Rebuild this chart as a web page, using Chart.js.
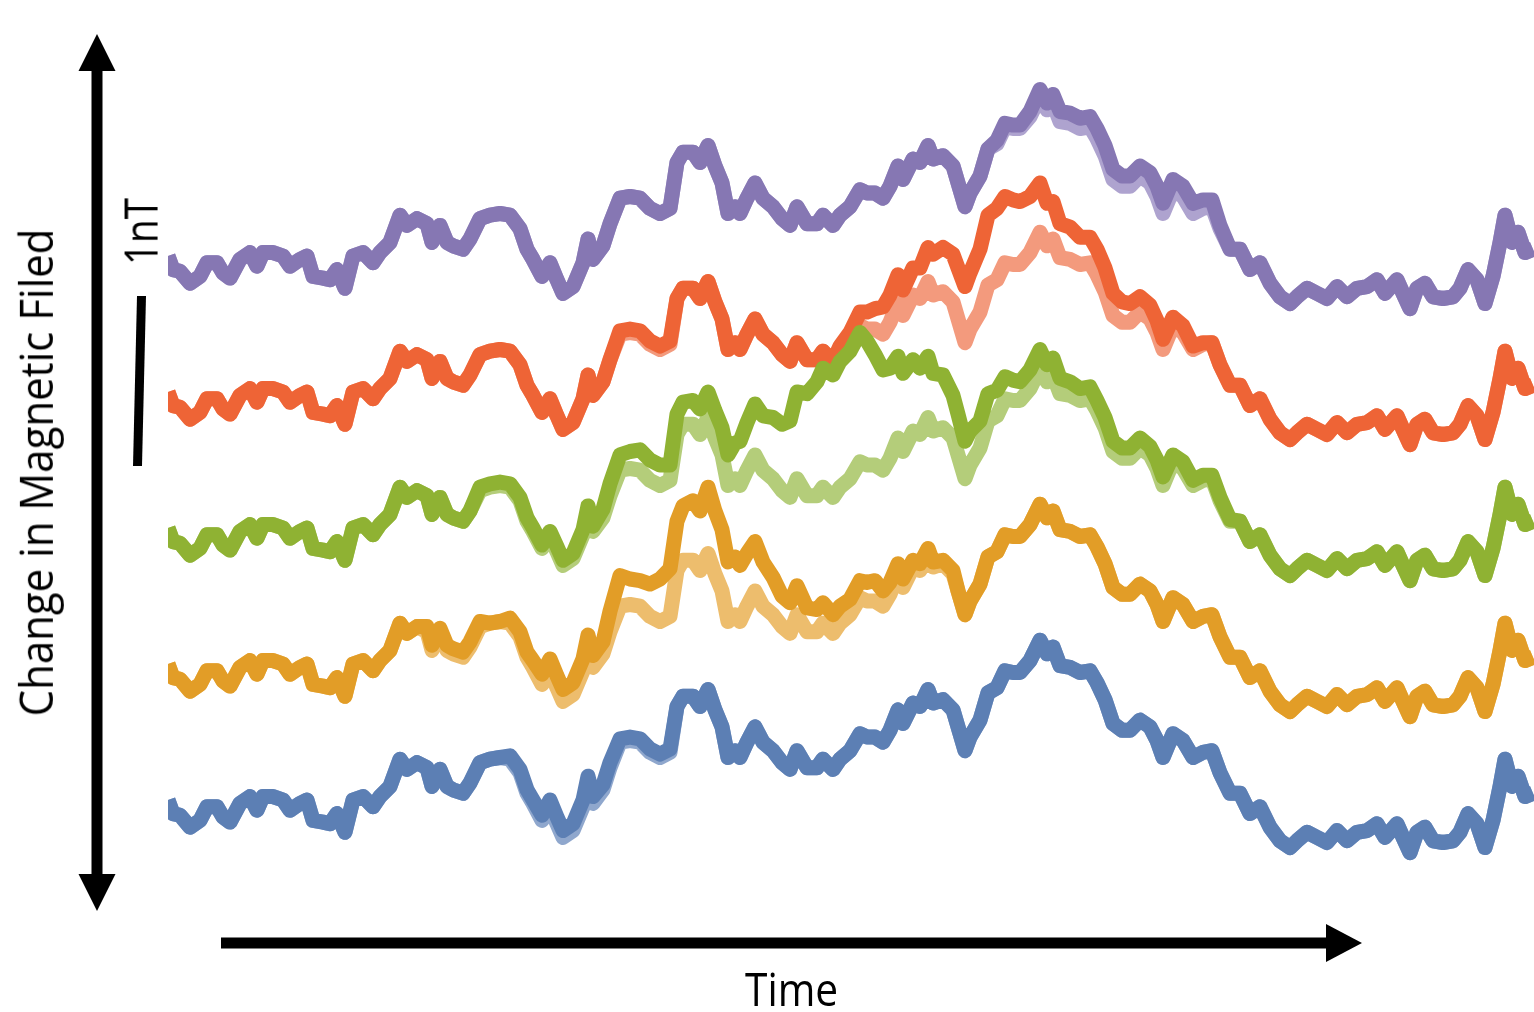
<!DOCTYPE html>
<html>
<head>
<meta charset="utf-8">
<script src="https://cdn.jsdelivr.net/npm/chart.js@4.4.1/dist/chart.umd.min.js"></script>
<style>
  html, body { margin: 0; padding: 0; background: #fff; width: 1534px; height: 1012px; overflow: hidden; }
  #wrap { position: relative; width: 1534px; height: 1012px; }
  canvas { position: absolute; left: 0; top: 0; }
  .lbl { position: absolute; font-family: "Open Sans", "DejaVu Sans", sans-serif; font-size: 45px;
         line-height: 1; color: #000; white-space: nowrap; transform-origin: 50% 50%; }
</style>
</head>
<body>
<div id="wrap">
  <canvas id="chart" width="1534" height="1012"></canvas>
  <div class="lbl" id="ylab">Change in Magnetic Filed</div>
  <div class="lbl" id="unit">1nT</div>
  <div class="lbl" id="xlab">Time</div>
</div>
<script>
// Sample times (arbitrary units) of the recorded field
const times = [0,5,12,22,32,39,49,55,62,72,82,89,95,105,115,122,132,139,145,155,162,169,177,185,195,205,212,222,232,239,249,259,264,272,279,285,295,302,312,322,332,342,352,359,365,374,382,389,395,405,415,420,425,435,442,452,462,472,482,492,502,509,515,525,532,540,547,554,560,567,572,579,587,595,605,614,622,629,639,649,655,665,672,682,692,699,707,715,722,730,735,745,752,760,765,775,785,790,797,802,812,820,829,837,845,852,862,872,879,885,892,902,912,922,929,937,945,954,962,972,982,989,995,1005,1015,1025,1035,1044,1052,1062,1072,1082,1092,1102,1112,1122,1129,1139,1149,1159,1169,1179,1189,1199,1209,1217,1229,1235,1242,1249,1257,1265,1275,1285,1292,1300,1309,1317,1325,1332,1337,1344,1350,1357,1365];

// Common background field change (nT), shared by all sensors
const reference = [0.00,-0.08,-0.09,-0.16,-0.12,-0.04,-0.04,-0.10,-0.13,-0.02,0.02,-0.06,0.02,0.02,0.00,-0.06,-0.02,0.00,-0.12,-0.13,-0.14,-0.08,-0.19,0.00,0.02,-0.04,0.02,0.08,0.24,0.18,0.22,0.19,0.08,0.18,0.08,0.06,0.04,0.10,0.22,0.24,0.25,0.24,0.16,0.04,-0.02,-0.12,-0.04,-0.14,-0.22,-0.18,-0.04,0.10,-0.02,0.06,0.19,0.34,0.35,0.34,0.28,0.25,0.28,0.55,0.61,0.61,0.55,0.65,0.53,0.43,0.25,0.29,0.25,0.34,0.43,0.34,0.29,0.22,0.18,0.29,0.19,0.19,0.24,0.18,0.24,0.29,0.39,0.37,0.37,0.34,0.41,0.53,0.45,0.57,0.55,0.65,0.57,0.59,0.53,0.43,0.29,0.37,0.47,0.63,0.66,0.76,0.75,0.75,0.82,0.94,0.86,0.90,0.79,0.78,0.75,0.76,0.69,0.59,0.45,0.41,0.41,0.47,0.43,0.35,0.25,0.39,0.35,0.25,0.28,0.29,0.16,0.04,0.04,-0.08,-0.04,-0.16,-0.24,-0.28,-0.24,-0.19,-0.22,-0.25,-0.18,-0.24,-0.19,-0.18,-0.14,-0.22,-0.14,-0.22,-0.31,-0.19,-0.16,-0.24,-0.25,-0.24,-0.19,-0.08,-0.14,-0.28,-0.12,0.08,0.24,0.08,0.14,0.02,0.04];

// Vertical stacking offset of each sensor trace (nT)
const sensorNames = ["Sensor 5", "Sensor 4", "Sensor 3", "Sensor 2", "Sensor 1"];
const stackOffsets = [3.2, 2.4, 1.6, 0.8, 0.0];
const measuredColors = ["#8677B3", "#EE6436", "#8FB233", "#E29D27", "#5C7FB4"];
const referenceColors = ["#AEA3CF", "#F39A7D", "#B4CD7A", "#EDBD6D", "#8FA7CD"];

// Extra field seen by each sensor on top of the background: [time, nT]
const sensor5Anomaly = [[829,0.02],[837,0.02],[845,0.02],[852,0.02],[862,0.03],[872,0.04],[879,0.04],[885,0.05],[892,0.06],[902,0.06],[912,0.06],[922,0.06],[929,0.06],[937,0.06],[945,0.06],[954,0.06],[962,0.06],[972,0.06],[982,0.06],[989,0.06],[995,0.06],[1005,0.06],[1015,0.06],[1025,0.06],[1035,0.05],[1044,0.04],[1052,0.02]];
const sensor4Anomaly = [[452,0.02],[462,0.02],[472,0.02],[482,0.02],[492,0.02],[502,0.02],[672,0.03],[682,0.06],[692,0.08],[699,0.10],[707,0.12],[715,0.16],[722,0.16],[730,0.16],[735,0.15],[745,0.16],[752,0.18],[760,0.20],[765,0.24],[775,0.26],[785,0.28],[790,0.30],[797,0.33],[802,0.33],[812,0.37],[820,0.41],[829,0.42],[837,0.39],[845,0.38],[852,0.37],[862,0.33],[872,0.29],[879,0.25],[885,0.22],[892,0.20],[902,0.19],[912,0.16],[922,0.15],[929,0.15],[937,0.14],[945,0.13],[954,0.12],[962,0.11],[972,0.09],[982,0.08],[989,0.07],[995,0.06],[1005,0.05],[1015,0.04],[1025,0.02],[1035,0.01]];
const sensor3Anomaly = [[312,0.02],[322,0.02],[332,0.02],[342,0.02],[352,0.02],[359,0.02],[365,0.02],[374,0.02],[382,0.02],[389,0.03],[395,0.03],[405,0.03],[415,0.03],[420,0.03],[425,0.03],[435,0.05],[442,0.07],[452,0.09],[462,0.10],[472,0.12],[482,0.12],[492,0.12],[502,0.09],[509,0.12],[515,0.13],[525,0.14],[532,0.15],[540,0.15],[547,0.16],[554,0.16],[560,0.18],[567,0.21],[572,0.26],[579,0.28],[587,0.30],[595,0.32],[605,0.36],[614,0.39],[622,0.45],[629,0.51],[639,0.60],[649,0.67],[655,0.70],[665,0.72],[672,0.74],[682,0.75],[692,0.76],[699,0.73],[707,0.65],[715,0.59],[722,0.53],[730,0.48],[735,0.46],[745,0.42],[752,0.39],[760,0.36],[765,0.34],[775,0.31],[785,0.25],[790,0.24],[797,0.22],[802,0.20],[812,0.16],[820,0.16],[829,0.15],[837,0.13],[845,0.12],[852,0.11],[862,0.11],[872,0.11],[879,0.10],[885,0.10],[892,0.09],[902,0.08],[912,0.07],[922,0.07],[929,0.06],[937,0.06],[945,0.06],[954,0.06],[962,0.06],[972,0.06],[982,0.05],[989,0.05],[995,0.05],[1005,0.04],[1015,0.04],[1025,0.03],[1035,0.03],[1044,0.02],[1052,0.02],[1062,0.01]];
const sensor2Anomaly = [[259,0.03],[264,0.03],[272,0.03],[279,0.03],[285,0.03],[295,0.03],[302,0.03],[312,0.03],[342,0.03],[352,0.03],[359,0.03],[365,0.04],[374,0.06],[382,0.07],[389,0.07],[395,0.07],[405,0.07],[415,0.07],[420,0.07],[425,0.07],[435,0.07],[442,0.12],[452,0.18],[462,0.15],[472,0.15],[482,0.19],[492,0.25],[502,0.28],[509,0.29],[515,0.32],[525,0.35],[532,0.35],[540,0.39],[547,0.37],[554,0.36],[560,0.35],[567,0.34],[572,0.33],[579,0.31],[587,0.29],[595,0.26],[605,0.22],[614,0.18],[622,0.18],[629,0.17],[639,0.14],[649,0.13],[655,0.12],[665,0.11],[672,0.10],[682,0.09],[692,0.10],[699,0.11],[707,0.12],[715,0.09],[722,0.07],[730,0.06],[735,0.05],[745,0.04],[752,0.04],[760,0.03],[765,0.03],[775,0.02],[785,0.02]];
const sensor1Anomaly = [[342,0.02],[352,0.02],[359,0.02],[365,0.02],[374,0.03],[382,0.04],[389,0.04],[395,0.04],[405,0.04],[415,0.04],[420,0.04],[425,0.04],[435,0.03],[442,0.03],[452,0.02],[462,0.02],[472,0.02],[482,0.02],[492,0.02],[502,0.02]];
const anomalies = [sensor5Anomaly, sensor4Anomaly, sensor3Anomaly, sensor2Anomaly, sensor1Anomaly];

// Build a background trace and a measured trace for each sensor
const datasets = [];
sensorNames.forEach((name, k) => {
  const extra = new Map(anomalies[k]);
  const base = times.map((t, i) => ({ x: t, y: reference[i] + stackOffsets[k] }));
  const measured = times.map((t, i) => ({ x: t, y: reference[i] + stackOffsets[k] + (extra.get(t) || 0) }));
  datasets.push({ label: name + " background", data: base, borderColor: referenceColors[k], order: 10 - 2 * k });
  datasets.push({ label: name + " measured", data: measured, borderColor: measuredColors[k], order: 9 - 2 * k });
});

// Axis arrows and the 1 nT scale bar
const decorations = {
  id: "decorations",
  afterDraw(chart) {
    const ctx = chart.ctx;
    ctx.save();
    ctx.fillStyle = "#000";
    // vertical double-headed arrow
    ctx.fillRect(91.5, 66, 11, 812);
    ctx.beginPath(); ctx.moveTo(97, 34); ctx.lineTo(78.5, 71); ctx.lineTo(115.5, 71); ctx.closePath(); ctx.fill();
    ctx.beginPath(); ctx.moveTo(97, 911); ctx.lineTo(78.5, 874); ctx.lineTo(115.5, 874); ctx.closePath(); ctx.fill();
    // horizontal time arrow
    ctx.fillRect(221, 937.5, 1107, 11);
    ctx.beginPath(); ctx.moveTo(1362, 943); ctx.lineTo(1326, 924); ctx.lineTo(1326, 962); ctx.closePath(); ctx.fill();
    // 1 nT scale bar, length taken from the y scale
    const ys = chart.scales.y;
    const len = ys.getPixelForValue(0) - ys.getPixelForValue(1);
    const top = 296;
    ctx.strokeStyle = "#000";
    ctx.lineWidth = 9;
    ctx.lineCap = "butt";
    ctx.beginPath(); ctx.moveTo(141.5, top); ctx.lineTo(137.5, top + len); ctx.stroke();
    ctx.restore();
  }
};

new Chart(document.getElementById("chart"), {
  type: "line",
  data: { datasets },
  options: {
    responsive: false,
    devicePixelRatio: 1,
    animation: false,
    layout: { padding: { left: 168, right: 0, top: 0, bottom: 0 } },
    plugins: { legend: { display: false }, tooltip: { enabled: false } },
    elements: {
      point: { radius: 0 },
      line: { tension: 0, borderWidth: 15, borderJoinStyle: "round", borderCapStyle: "butt" }
    },
    scales: {
      x: { type: "linear", display: false, min: 0, max: 1366 },
      y: { type: "linear", display: false, min: -1.2471, max: 4.7059 }
    }
  },
  plugins: [decorations]
});

// Place the text labels, squeezing them to the narrow lettering
function placeLabel(id, cx, cy, length, rotation) {
  const el = document.getElementById(id);
  const w = el.offsetWidth, h = el.offsetHeight;
  el.style.left = (cx - w / 2) + "px";
  el.style.top = (cy - h / 2) + "px";
  el.style.transform = "rotate(" + rotation + "deg) scaleX(" + (length / w) + ")";
}
function layoutLabels() {
  placeLabel("ylab", 35, 472, 488, -90);
  placeLabel("unit", 140, 231, 67, -90);
  placeLabel("xlab", 791, 988, 93, 0);
}
layoutLabels();
if (document.fonts && document.fonts.ready) document.fonts.ready.then(layoutLabels);
</script>
</body>
</html>
